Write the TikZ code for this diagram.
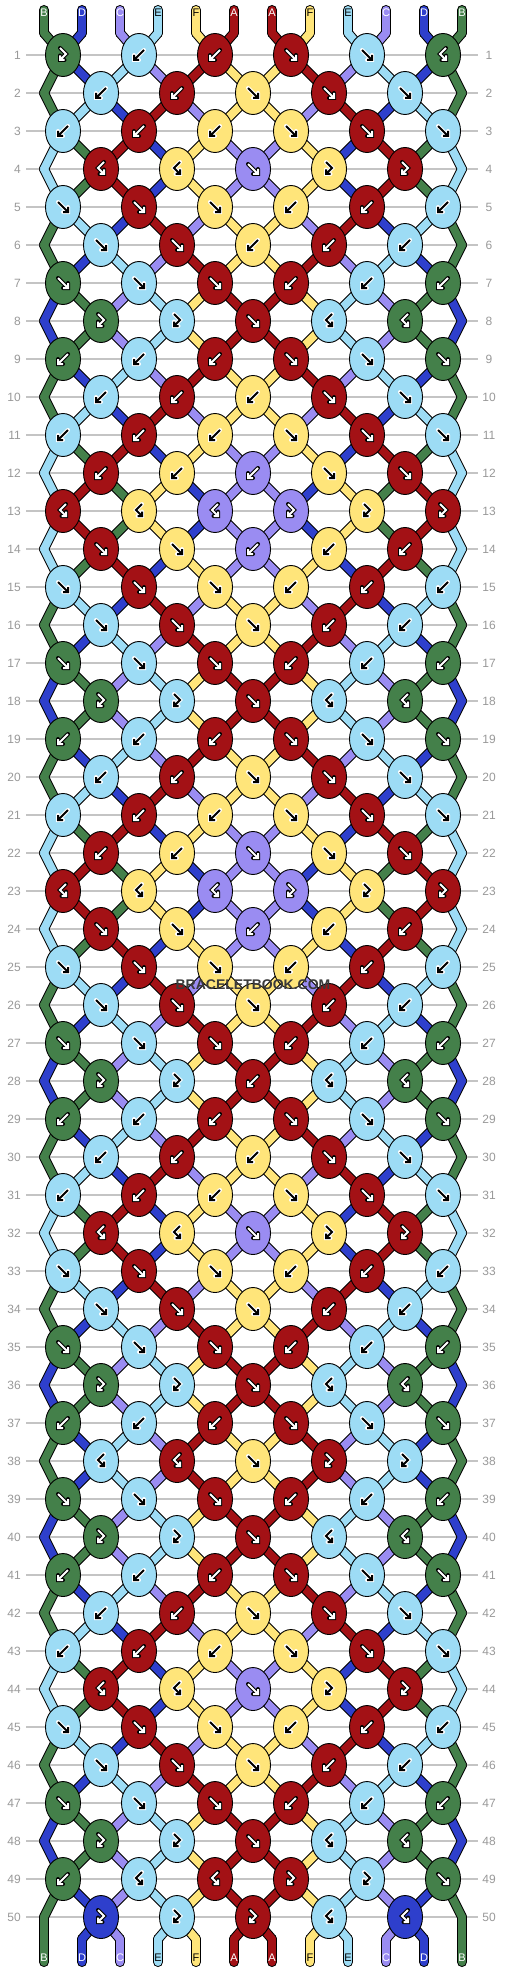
\documentclass[tikz,border=0pt]{standalone}
\usepackage{fontspec}
\setmainfont{Liberation Sans}
\usetikzlibrary{shapes.geometric}
\definecolor{cA}{HTML}{A31115}
\definecolor{cB}{HTML}{44804A}
\definecolor{cC}{HTML}{9A8CF2}
\definecolor{cD}{HTML}{2E3FCC}
\definecolor{cE}{HTML}{9DDCF5}
\definecolor{cF}{HTML}{FFE57A}
\definecolor{gridgray}{HTML}{C4C4C4}
\definecolor{labgray}{HTML}{999999}
\definecolor{wmgray}{HTML}{3A3A3A}
\pgfdeclarelayer{paper}
\pgfdeclarelayer{grid}
\pgfdeclarelayer{strb}
\pgfdeclarelayer{strf}
\pgfsetlayers{paper,grid,strb,strf,main}
\def\tF{f}\def\tB{b}\def\tFB{fb}\def\tBF{bf}
\def\fgA{white}\def\fgB{white}\def\fgC{white}\def\fgD{white}\def\fgE{black}\def\fgF{black}
\def\olA{black}\def\olB{black}\def\olC{black}\def\olD{black}\def\olE{white}\def\olF{white}
\gdef\allconn{}
\newcommand\addseg[3]{\xdef\allconn{\unexpanded\expandafter{\allconn}\noexpand\seg{#1}{#2}{#3}}}
\newcommand\drawicon[2]{%
  \ifx#1\tF \draw[#2] (-5,-5) -- (5,5) (0,5) -- (5,5) -- (5,0);\fi
  \ifx#1\tB \draw[#2] (5,-5) -- (-5,5) (0,5) -- (-5,5) -- (-5,0);\fi
  \ifx#1\tFB \draw[#2] (-3,-7) -- (3,-1) -- (-3,5) (1.5,5) -- (-3,5) -- (-3,0.5);\fi
  \ifx#1\tBF \draw[#2] (3,-7) -- (-3,-1) -- (3,5) (-1.5,5) -- (3,5) -- (3,0.5);\fi}
\begin{document}
\begin{tikzpicture}[x=1pt,y=-1pt,
  knot/.style={ellipse,draw=black,line width=0.9pt,minimum width=35pt,minimum height=43pt,inner sep=0pt},
  strb/.style={line width=10pt,black,line cap=round},
  strf/.style={line width=8pt,line cap=round},
  rowlab/.style={text=labgray,inner sep=0pt,font=\fontsize{12}{12}\selectfont},
  strlab/.style={inner sep=0pt,font=\fontsize{11}{11}\selectfont}]
\begin{pgfonlayer}{paper}
\fill[white] (0,0) rectangle (506,1972);
\end{pgfonlayer}
\useasboundingbox (0,0) rectangle (506,1972);
% grid lines
\begin{pgfonlayer}{grid}
\foreach \r in {1,...,50}{\draw[gridgray,line width=1.2pt] (26,{55+38*(\r-1)}) -- (478,{55+38*(\r-1)});}
\end{pgfonlayer}
% starting strings
\foreach \Lname [count=\i from 0] in {B,D,C,E,F,A,A,F,E,C,D,B}{%
  \pgfmathsetmacro\xx{44+38*\i}
  \coordinate (s-\i) at (\xx,10);
  \coordinate (t-\i) at (\xx,33);
  \expandafter\xdef\csname col\i\endcsname{\Lname}%
  \expandafter\xdef\csname src\i\endcsname{t-\i}%
  \addseg{s-\i}{t-\i}{\Lname}%
  \edef\lc{\csname fg\Lname\endcsname}%
  \node[strlab,text=\lc] (lt-\i) at (\xx,13) {\Lname};
}
% rows of knots
\foreach \lst [count=\r] in {%
 {fb,b,b,f,f,bf},{b,b,f,f,f},{b,b,b,f,f,f},{bf,bf,f,fb,fb},{f,f,f,b,b,b},
 {f,f,b,b,b},{f,f,f,b,b,b},{fb,fb,f,bf,bf},{b,b,b,f,f,f},{b,b,b,f,f},
 {b,b,b,f,f,f},{b,b,b,f,f},{bf,bf,bf,fb,fb,fb},{f,f,b,b,b},{f,f,f,b,b,b},
 {f,f,f,b,b},{f,f,f,b,b,b},{fb,fb,f,bf,bf},{b,b,b,f,f,f},{b,b,f,f,f},
 {b,b,b,f,f,f},{b,b,f,f,f},{bf,bf,bf,fb,fb,fb},{f,f,b,b,b},{f,f,f,b,b,b},
 {f,f,f,b,b},{f,f,f,b,b,b},{fb,fb,b,bf,bf},{b,b,b,f,f,f},{b,b,b,f,f},
 {b,b,b,f,f,f},{bf,bf,f,fb,fb},{f,f,f,b,b,b},{f,f,f,b,b},{f,f,f,b,b,b},
 {fb,fb,f,bf,bf},{b,b,b,f,f,f},{bf,bf,f,fb,fb},{f,f,f,b,b,b},{fb,fb,f,bf,bf},
 {b,b,b,f,f,f},{b,b,f,f,f},{b,b,b,f,f,f},{bf,bf,f,fb,fb},{f,f,f,b,b,b},
 {f,f,f,b,b},{f,f,f,b,b,b},{fb,fb,f,bf,bf},{b,bf,bf,fb,fb,f},{fb,fb,fb,bf,bf}}{%
  \pgfmathsetmacro\yy{55+38*(\r-1)}
  \pgfmathtruncatemacro\odd{mod(\r,2)}
  \node[rowlab,anchor=east] (rl-\r) at (21,\yy) {\r};
  \node[rowlab] (rr-\r) at (489,\yy) {\r};
  \ifnum\odd=0
    \coordinate (eL-\r) at (44,\yy);
    \coordinate (eR-\r) at (462,\yy);
    \addseg{\csname src0\endcsname}{eL-\r}{\csname col0\endcsname}%
    \addseg{\csname src11\endcsname}{eR-\r}{\csname col11\endcsname}%
    \expandafter\xdef\csname src0\endcsname{eL-\r}%
    \expandafter\xdef\csname src11\endcsname{eR-\r}%
  \fi
  \foreach \ty [count=\c from 0] in \lst {%
    \pgfmathtruncatemacro\ii{\odd==1 ? 2*\c : 2*\c+1}
    \pgfmathtruncatemacro\jj{\ii+1}
    \pgfmathsetmacro\xx{63+38*\ii}
    \edef\kt{\ty}%
    \edef\ci{\csname col\ii\endcsname}%
    \edef\cj{\csname col\jj\endcsname}%
    \edef\si{\csname src\ii\endcsname}%
    \edef\sj{\csname src\jj\endcsname}%
    \let\kc\cj
    \ifx\kt\tF\let\kc\ci\fi
    \ifx\kt\tFB\let\kc\ci\fi
    \node[knot,fill=c\kc] (k-\r-\c) at (\xx,\yy) {};
    \addseg{\si}{k-\r-\c}{\ci}%
    \addseg{\sj}{k-\r-\c}{\cj}%
    \edef\fgc{\csname fg\kc\endcsname}%
    \edef\olc{\csname ol\kc\endcsname}%
    \drawicon{\kt}{shift={(\xx,\yy)},line width=4pt,color=\olc,line cap=round}
    \drawicon{\kt}{shift={(\xx,\yy)},line width=2pt,color=\fgc}
    \expandafter\xdef\csname src\ii\endcsname{k-\r-\c}%
    \expandafter\xdef\csname src\jj\endcsname{k-\r-\c}%
    \ifx\kt\tF \expandafter\xdef\csname col\ii\endcsname{\cj}\expandafter\xdef\csname col\jj\endcsname{\ci}\fi
    \ifx\kt\tB \expandafter\xdef\csname col\ii\endcsname{\cj}\expandafter\xdef\csname col\jj\endcsname{\ci}\fi
  }
}
% ending strings
\foreach \i in {0,...,11}{%
  \pgfmathsetmacro\xx{44+38*\i}
  \coordinate (u-\i) at (\xx,1939);
  \coordinate (v-\i) at (\xx,1962);
  \edef\si{\csname src\i\endcsname}%
  \edef\ci{\csname col\i\endcsname}%
  \ifnum\i=0 \addseg{\si}{v-\i}{\ci}\else
  \ifnum\i=11 \addseg{\si}{v-\i}{\ci}\else
  \addseg{\si}{u-\i}{\ci}\addseg{u-\i}{v-\i}{\ci}\fi\fi
  \edef\lc{\csname fg\ci\endcsname}%
  \node[strlab,text=\lc] (lb-\i) at (\xx,1958) {\ci};
}
% draw all string segments, borders then fills
\begin{pgfonlayer}{strb}
\def\seg#1#2#3{\draw[strb] (#1.center) -- (#2.center);}
\allconn
\end{pgfonlayer}
\begin{pgfonlayer}{strf}
\def\seg#1#2#3{\draw[strf,color=c#3] (#1.center) -- (#2.center);}
\allconn
\end{pgfonlayer}
\node[text=wmgray,inner sep=0pt,font=\bfseries\fontsize{14}{14}\selectfont] (wm) at (253,985) {BRACELETBOOK.COM};
\end{tikzpicture}
\end{document}
